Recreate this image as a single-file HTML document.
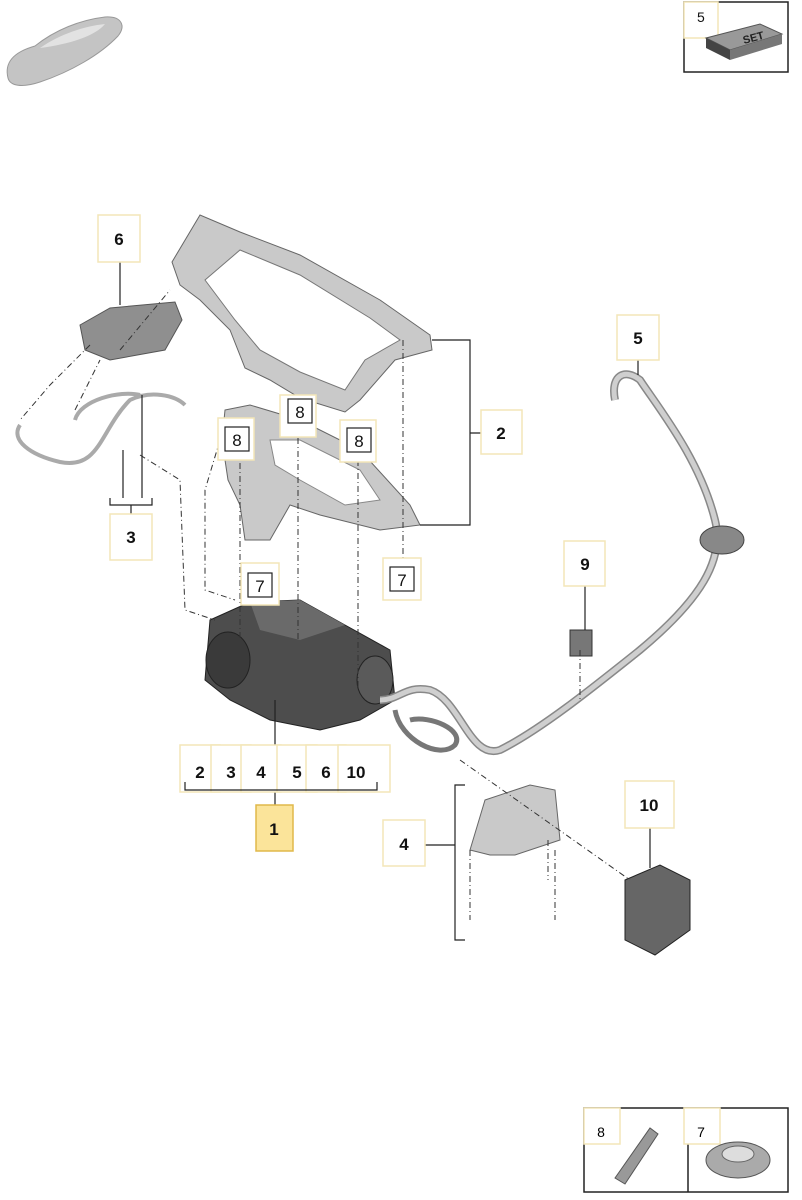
<!DOCTYPE html>
<html><head><meta charset="utf-8"><style>
html,body{margin:0;padding:0;background:#fff;}
svg{display:block;font-family:"Liberation Sans",sans-serif;}
.lb{fill:#fff;stroke:#f3e6b8;stroke-width:1.5}
.t{font-size:17px;font-weight:bold;text-anchor:middle;fill:#111}
.bx{fill:#fff;stroke:#222;stroke-width:1.2}
.d{fill:none;stroke:#333;stroke-width:1;stroke-dasharray:6,3,1,3}
.p{fill:#c9c9c9;stroke:#666;stroke-width:1}
.ln{stroke:#222;stroke-width:1.2;fill:none}
</style></head><body>
<svg width="802" height="1200" viewBox="0 0 802 1200">
<!-- car -->
<path d="M8,78 C4,62 14,52 35,46 C55,30 80,20 105,17 C122,16 126,26 118,36 C100,55 70,72 40,82 C22,88 10,86 8,78Z" fill="#c4c4c4" stroke="#999"/>
<path d="M40,48 C60,34 85,26 105,24 C95,36 70,44 40,48Z" fill="#e2e2e2"/>
<!-- SET box -->
<rect x="684" y="2" width="104" height="70" fill="#fff" stroke="#222" stroke-width="1.5"/>
<rect x="684" y="2" width="34" height="36" class="lb"/>
<text x="697" y="22" font-size="14" fill="#111">5</text>
<path d="M706,38 L760,24 L782,34 L730,50Z" fill="#999" stroke="#555"/>
<path d="M706,38 L730,50 L730,60 L706,48Z" fill="#444"/>
<path d="M730,50 L782,34 L782,44 L730,60Z" fill="#777"/>
<text x="744" y="44" font-size="11" font-weight="bold" fill="#222" transform="rotate(-15 744 44)">SET</text>

<!-- upper frame -->
<path class="p" d="M172,262 L200,215 L240,232 L300,255 L380,300 L430,335 L432,350 L395,360 L360,400 L345,412 L300,398 L270,380 L245,368 L230,330 L200,300 L180,285Z"/>
<path d="M205,280 L240,250 L300,275 L370,318 L400,340 L365,360 L345,390 L300,372 L260,350 L235,320Z" fill="#fff" stroke="#777"/>
<!-- lower plate -->
<path class="p" d="M225,410 L250,405 L300,420 L360,450 L410,505 L420,525 L380,530 L320,515 L290,505 L270,540 L245,540 L240,505 L228,480 L222,440Z"/>
<path d="M270,440 L300,440 L360,470 L380,500 L345,505 L300,480 L275,465Z" fill="#fff" stroke="#888"/>
<!-- module 6 -->
<path d="M80,325 L110,308 L175,302 L182,320 L165,350 L110,360 L85,350Z" fill="#8f8f8f" stroke="#555"/>
<!-- pipe 3 -->
<path d="M20,425 C10,440 30,455 60,462 C100,470 100,430 130,400 C150,390 175,395 185,405" fill="none" stroke="#aaa" stroke-width="4"/>
<path d="M75,420 C80,400 120,390 140,395" fill="none" stroke="#aaa" stroke-width="4"/>
<!-- compressor -->
<path d="M210,620 L250,602 L300,600 L345,625 L390,650 L395,700 L360,720 L320,730 L270,720 L230,700 L205,680Z" fill="#4d4d4d" stroke="#222"/>
<path d="M250,602 L300,600 L345,625 L300,640 L260,630Z" fill="#6a6a6a"/>
<ellipse cx="228" cy="660" rx="22" ry="28" fill="#3a3a3a" stroke="#222"/>
<ellipse cx="375" cy="680" rx="18" ry="24" fill="#5a5a5a" stroke="#222"/>
<!-- hose 5 -->
<path d="M615,400 C610,375 625,368 640,380 C660,410 700,460 715,520 C725,560 700,600 640,650 C590,690 540,730 500,750 C470,760 460,700 430,690 C405,685 400,700 380,700" fill="none" stroke="#888" stroke-width="8"/>
<path d="M615,400 C610,375 625,368 640,380 C660,410 700,460 715,520 C725,560 700,600 640,650 C590,690 540,730 500,750 C470,760 460,700 430,690 C405,685 400,700 380,700" fill="none" stroke="#cfcfcf" stroke-width="5"/>
<ellipse cx="722" cy="540" rx="22" ry="14" fill="#888" stroke="#444"/>
<path d="M395,710 C400,740 440,760 455,745 C465,730 430,715 410,720" fill="none" stroke="#777" stroke-width="5"/>
<!-- 9 -->
<rect x="570" y="630" width="22" height="26" fill="#777" stroke="#333"/>
<!-- bracket 4 -->
<path class="p" d="M485,800 L530,785 L555,790 L560,840 L515,855 L490,855 L470,850Z"/>
<!-- 10 -->
<path d="M625,880 L660,865 L690,880 L690,930 L655,955 L625,940Z" fill="#666" stroke="#222"/>

<!-- dashed lines -->
<path class="d" d="M90,345 L50,385 L20,420"/>
<path class="d" d="M120,350 L170,290"/>
<path class="d" d="M75,410 L100,360"/>
<path class="d" d="M140,455 L180,480 L185,610 L215,620"/>
<path class="d" d="M220,440 L205,490 L205,590 L235,600"/>
<path class="d" d="M240,450 L240,640"/>
<path class="d" d="M298,425 L298,640"/>
<path class="d" d="M358,460 L358,690"/>
<path class="d" d="M403,340 L403,570"/>
<path class="d" d="M580,650 L580,700"/>
<path class="d" d="M460,760 L630,880"/>
<path class="d" d="M470,850 L470,920"/>
<path class="d" d="M548,840 L548,880"/>
<path class="d" d="M555,850 L555,920"/>

<!-- brackets -->
<path class="ln" d="M432,340 L470,340 L470,525 L420,525 M470,433 L481,433"/>
<path class="ln" d="M110,498 L110,505 L152,505 L152,498 M131,505 L131,514 M123,450 L123,498 M142,395 L142,498"/>
<path class="ln" d="M185,782 L185,790 L377,790 L377,782 M275,790 L275,805 M275,700 L275,790"/>
<path class="ln" d="M465,785 L455,785 L455,940 L465,940 M425,845 L455,845"/>
<path class="ln" d="M120,262 L120,305 M638,360 L638,375 M585,586 L585,630 M650,828 L650,868"/>

<!-- labels -->
<rect x="98" y="215" width="42" height="47" class="lb"/><text x="119" y="245" class="t">6</text>
<rect x="481" y="410" width="41" height="44" class="lb"/><text x="501" y="439" class="t">2</text>
<rect x="110" y="514" width="42" height="46" class="lb"/><text x="131" y="543" class="t">3</text>
<rect x="617" y="315" width="42" height="45" class="lb"/><text x="638" y="344" class="t">5</text>
<rect x="564" y="541" width="41" height="45" class="lb"/><text x="585" y="570" class="t">9</text>
<rect x="625" y="781" width="49" height="47" class="lb"/><text x="649" y="811" class="t">10</text>
<rect x="383" y="820" width="42" height="46" class="lb"/><text x="404" y="850" class="t">4</text>
<rect x="256" y="805" width="37" height="46" fill="#fbe49a" stroke="#e0b84a" stroke-width="1.5"/><text x="274" y="835" class="t">1</text>
<rect x="180" y="745" width="40" height="47" class="lb"/><rect x="211" y="745" width="40" height="47" class="lb"/><rect x="241" y="745" width="40" height="47" class="lb"/><rect x="277" y="745" width="40" height="47" class="lb"/><rect x="306" y="745" width="40" height="47" class="lb"/><rect x="338" y="745" width="52" height="47" class="lb"/>
<text x="200" y="778" class="t">2</text><text x="231" y="778" class="t">3</text><text x="261" y="778" class="t">4</text><text x="297" y="778" class="t">5</text><text x="326" y="778" class="t">6</text><text x="356" y="778" class="t">10</text>
<path class="ln" d="M185,782 L185,790 L377,790 L377,782"/>
<!-- boxed 8/7 -->
<rect x="218" y="418" width="36" height="42" class="lb"/><rect x="225" y="427" width="24" height="24" class="bx"/><text x="237" y="446" class="t" style="font-weight:normal">8</text>
<rect x="280" y="395" width="36" height="42" class="lb"/><rect x="288" y="399" width="24" height="24" class="bx"/><text x="300" y="418" class="t" style="font-weight:normal">8</text>
<rect x="340" y="420" width="36" height="42" class="lb"/><rect x="347" y="428" width="24" height="24" class="bx"/><text x="359" y="447" class="t" style="font-weight:normal">8</text>
<rect x="241" y="563" width="38" height="42" class="lb"/><rect x="248" y="573" width="24" height="24" class="bx"/><text x="260" y="592" class="t" style="font-weight:normal">7</text>
<rect x="383" y="558" width="38" height="42" class="lb"/><rect x="390" y="567" width="24" height="24" class="bx"/><text x="402" y="586" class="t" style="font-weight:normal">7</text>

<!-- bottom table -->
<rect x="584" y="1108" width="204" height="84" fill="#fff" stroke="#222" stroke-width="1.5"/>
<line x1="688" y1="1108" x2="688" y2="1192" stroke="#222" stroke-width="1.5"/>
<rect x="584" y="1108" width="36" height="36" class="lb"/><text x="601" y="1137" font-size="14" text-anchor="middle">8</text>
<rect x="684" y="1108" width="36" height="36" class="lb"/><text x="701" y="1137" font-size="14" text-anchor="middle">7</text>
<path d="M615,1178 L650,1128 L658,1134 L625,1184Z" fill="#999" stroke="#555"/>
<ellipse cx="738" cy="1160" rx="32" ry="18" fill="#aaa" stroke="#555"/>
<ellipse cx="738" cy="1154" rx="16" ry="8" fill="#ddd" stroke="#666"/>
</svg>
</body></html>
